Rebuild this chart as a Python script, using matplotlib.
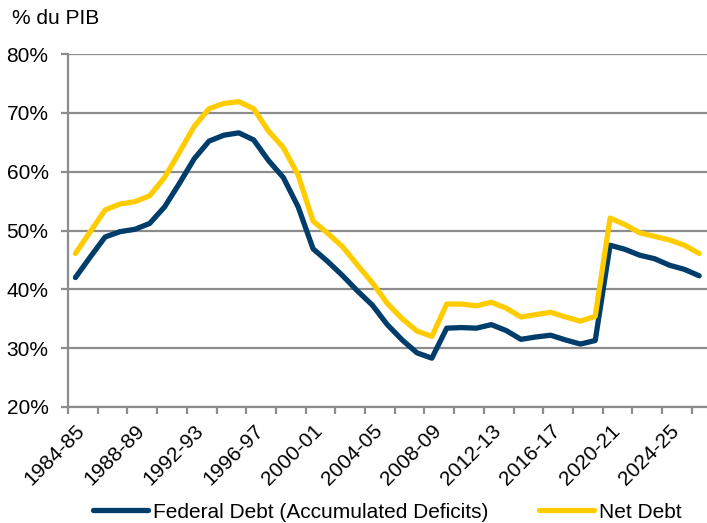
import matplotlib
matplotlib.use("Agg")
import matplotlib.pyplot as plt
from matplotlib.lines import Line2D

years = [f"{y}-{str(y + 1)[-2:]}" for y in range(1984, 2027)]

federal_debt = [42.0, 45.5, 48.9, 49.8, 50.2, 51.2, 54.0, 58.0, 62.2, 65.2,
                66.2, 66.6, 65.4, 61.9, 59.0, 54.0, 46.9, 44.7, 42.3, 39.7,
                37.3, 34.0, 31.4, 29.2, 28.3, 33.4, 33.5, 33.4, 34.0, 33.0,
                31.5, 31.9, 32.2, 31.4, 30.7, 31.3, 47.5, 46.8, 45.8, 45.2,
                44.1, 43.4, 42.3]
net_debt = [46.1, 49.8, 53.5, 54.5, 54.9, 55.9, 59.0, 63.3, 67.7, 70.7,
            71.6, 71.9, 70.7, 66.9, 64.1, 59.4, 51.6, 49.5, 47.2, 44.1,
            41.1, 37.6, 35.0, 32.9, 32.0, 37.5, 37.5, 37.2, 37.8, 36.8,
            35.3, 35.7, 36.1, 35.3, 34.6, 35.4, 52.1, 51.0, 49.6, 49.0,
            48.4, 47.5, 46.1]
y_ticks = [20, 30, 40, 50, 60, 70, 80]

blue = "#003D6B"
yellow = "#FFCC00"
grid_c = "#8C8C8C"
fs = 15

plt.rcParams['font.family'] = ['Liberation Sans', 'DejaVu Sans']

fig = plt.figure(figsize=(7.07, 5.23), dpi=100)
ax = fig.add_axes([68 / 707, 1 - 407 / 523, (706.6 - 68) / 707, (407 - 54) / 523])

x = list(range(len(years)))
ax.plot(x, federal_debt, color=blue, lw=3.8, solid_capstyle='round', solid_joinstyle='round', zorder=3)
ax.plot(x, net_debt, color=yellow, lw=3.8, solid_capstyle='round', solid_joinstyle='round', zorder=3)

ax.set_xlim(-0.5, len(years) - 0.5)
ax.set_ylim(20, 80)
ax.set_yticks(y_ticks)
ax.set_yticklabels([f"{v}%" for v in y_ticks])
ax.yaxis.grid(True, color=grid_c, lw=1.6)
ax.set_axisbelow(True)

# major ticks at category boundaries, labels at category centres every 4
ax.set_xticks([b - 0.5 for b in range(0, len(years), 2)])
ax.set_xticklabels([])
ax.set_xticks(list(range(0, len(years), 4)), minor=True)
ax.set_xticklabels([years[i] for i in range(0, len(years), 4)], minor=True,
                   rotation=45, ha='right', rotation_mode='anchor')
ax.tick_params(axis='x', which='major', length=5, width=1.6, color=grid_c, direction='out')
ax.tick_params(axis='x', which='minor', length=0, pad=10, labelsize=fs)
ax.tick_params(axis='y', length=5, width=1.6, color=grid_c, pad=9, labelsize=fs)

for s in ['top', 'right']:
    ax.spines[s].set_visible(False)
for s in ['left', 'bottom']:
    ax.spines[s].set_color(grid_c)
    ax.spines[s].set_linewidth(1.6)

fig.text(12 / 707, 1 - 19 / 523, "% du PIB", fontsize=fs, va='center', ha='left')

handles = [Line2D([], [], color=blue, lw=3.8, solid_capstyle='round'),
           Line2D([], [], color=yellow, lw=3.8, solid_capstyle='round')]
fig.legend(handles, ["Federal Debt (Accumulated Deficits)", "Net Debt"],
           loc='center', bbox_to_anchor=(0.548, 1 - 512 / 523), ncol=2, frameon=False,
           fontsize=fs, handlelength=2.65, handletextpad=0.25, columnspacing=2.4,
           borderpad=0, borderaxespad=0)

fig.savefig("out.png", dpi=100)
